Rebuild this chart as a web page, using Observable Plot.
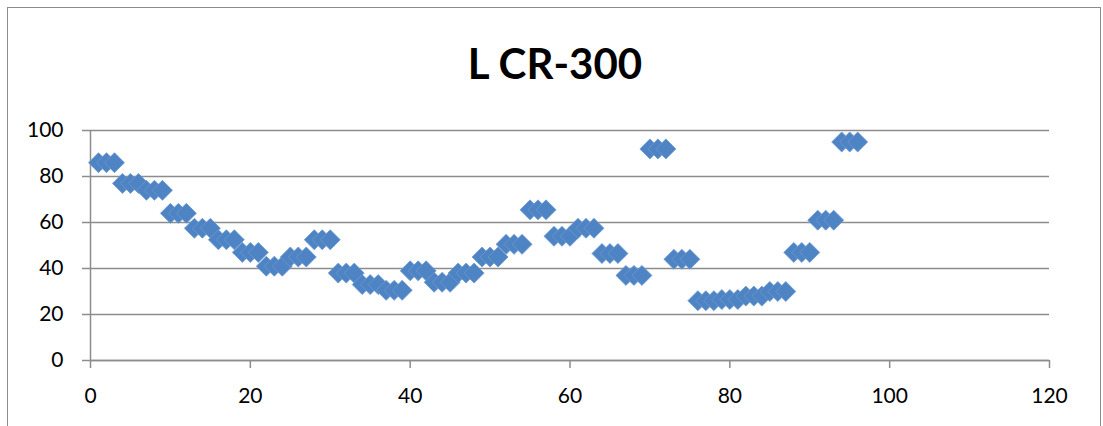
<!DOCTYPE html>
<html>
<head>
<meta charset="utf-8">
<script src="https://cdn.jsdelivr.net/npm/d3@7"></script>
<script src="https://cdn.jsdelivr.net/npm/@observablehq/plot@0.6"></script>
<style>
  html, body { margin: 0; padding: 0; background: #fff; }
  #wrap { position: relative; width: 1103px; height: 426px; overflow: hidden; font-family: Lato, "Open Sans", sans-serif; }
  #frame { position: absolute; left: 7px; top: 7px; width: 1094px; height: 440px; border: 1px solid #8c8c8c; box-sizing: border-box; pointer-events: none; }
  #title { position: relative; height: 110px; }
  #title span { position: absolute; left: 0; width: 1110px; top: 38px; text-align: center; font-family: Lato, sans-serif; font-weight: 700; font-size: 42px; line-height: 1.2; color: #000; }
  #chart svg { display: block; }
</style>
</head>
<body>
<div id="wrap">
  <div id="title"><span>L CR-300</span></div>
  <div id="chart"></div>
  <div id="frame"></div>
</div>
<script>
const titleText = "L CR-300";
const xValues = [
  1, 2, 3, 4, 5, 6, 7, 8, 9, 10, 11, 12, 13, 14, 15, 16, 17, 18, 19, 20, 21, 22, 23, 24,
  25, 26, 27, 28, 29, 30, 31, 32, 33, 34, 35, 36, 37, 38, 39, 40, 41, 42, 43, 44, 45, 46, 47, 48,
  49, 50, 51, 52, 53, 54, 55, 56, 57, 58, 59, 60, 61, 62, 63, 64, 65, 66, 67, 68, 69, 70, 71, 72,
  73, 74, 75, 76, 77, 78, 79, 80, 81, 82, 83, 84, 85, 86, 87, 88, 89, 90, 91, 92, 93, 94, 95, 96
];
const yValues = [
  86, 86, 86, 77, 77, 77, 74, 74, 74, 64, 64, 64, 57.5, 57.5, 57.5, 52.5, 52.5, 52.5, 47, 47, 47, 41, 41, 41,
  45, 45, 45, 52.5, 52.5, 52.5, 38, 38, 38, 33, 33, 33, 30.5, 30.5, 30.5, 39, 39, 39, 34, 34, 34, 38, 38, 38,
  45, 45, 45, 50.5, 50.5, 50.5, 65.5, 65.5, 65.5, 54, 54, 54, 57.5, 57.5, 57.5, 46.5, 46.5, 46.5, 37, 37, 37, 92, 92, 92,
  44, 44, 44, 26, 26, 26, 26.5, 26.5, 26.5, 28, 28, 28, 30, 30, 30, 47, 47, 47, 61, 61, 61, 95, 95, 95
];
const xTicks = [0, 20, 40, 60, 80, 100, 120];
const yTicks = [0, 20, 40, 60, 80, 100];

const data = xValues.map((x, i) => ({x, y: yValues[i]}));
const gray = "#8c8c8c";

const plot = Plot.plot({
  width: 1103,
  height: 316,
  marginLeft: 90,
  marginRight: 54,
  marginTop: 20,
  marginBottom: 66,
  style: {fontFamily: "Lato, sans-serif", fontSize: "21px", color: "#000", background: "transparent"},
  x: {domain: [0, 120], ticks: xTicks},
  y: {domain: [0, 100], ticks: yTicks},
  marks: [
    Plot.gridY(yTicks, {stroke: gray, strokeOpacity: 1, strokeWidth: 1.5}),
    Plot.ruleX([0], {stroke: gray, strokeWidth: 1.5}),
    Plot.ruleY([0], {stroke: gray, strokeWidth: 1.5}),
    Plot.axisY(yTicks, {tickSize: 8, tickPadding: 19, stroke: gray, strokeWidth: 1.5, fill: "#000", label: null, fontSize: 21}),
    Plot.axisX(xTicks, {tickSize: 8, tickPadding: 20, stroke: gray, strokeWidth: 1.5, fill: "#000", label: null, fontSize: 21}),
    Plot.dot(data, {x: "x", y: "y", symbol: "diamond2", r: 9, fill: "#4f84c4", stroke: "#6a98cf", strokeWidth: 0.8})
  ]
});
document.getElementById("chart").appendChild(plot);
</script>
</body>
</html>
